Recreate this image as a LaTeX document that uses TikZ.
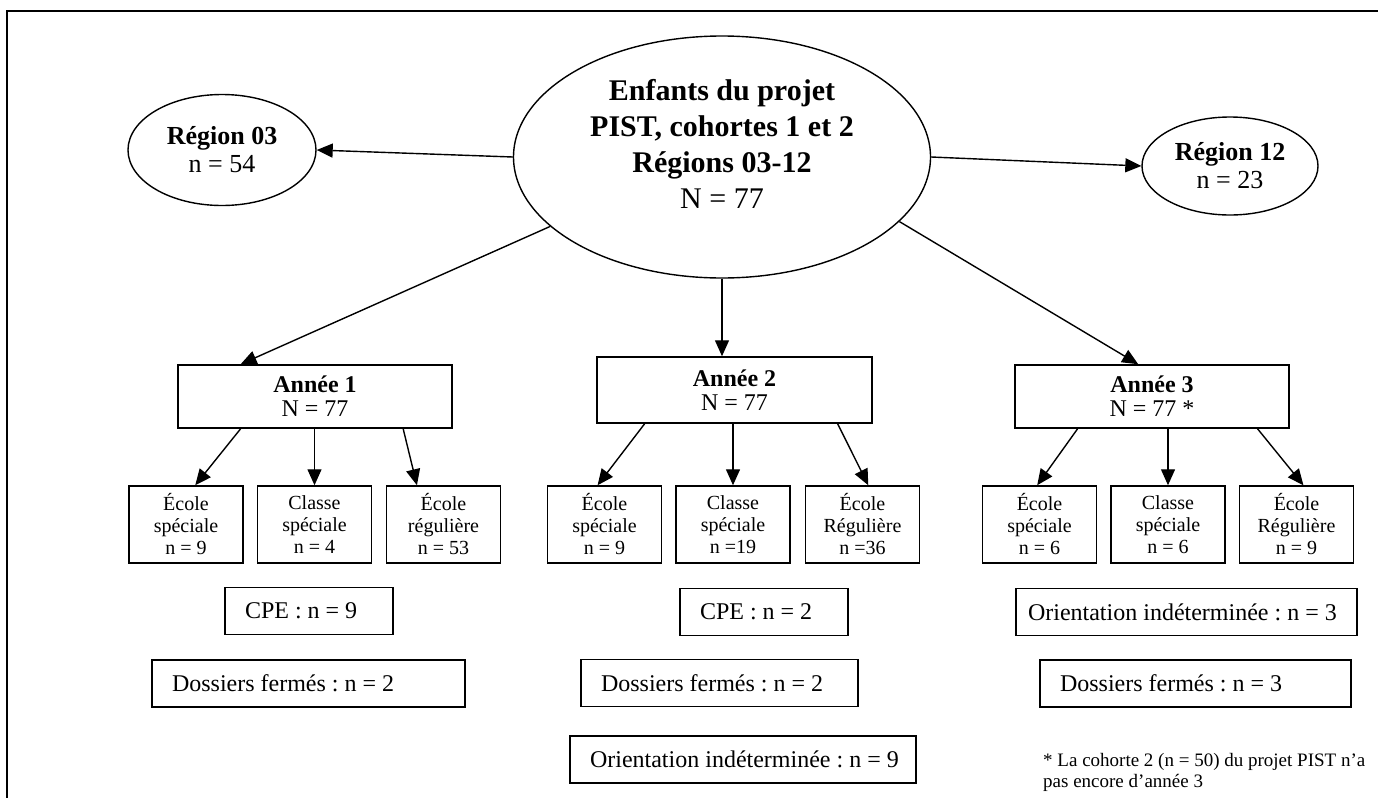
\documentclass[tikz,border=0pt]{standalone}
\usepackage{fontspec}
\setmainfont{Liberation Serif}
\usetikzlibrary{shapes.geometric, arrows.meta, calc}
\newcommand{\padtext}[2]{\makebox[#1][l]{#2}}
\frenchspacing

\begin{document}
\begin{tikzpicture}[x=1pt, y=-1pt,
    oval/.style={draw, ellipse, line width=1.4pt, inner sep=0pt, align=center},
    yearbox/.style={draw, line width=1.5pt, minimum width=274pt, minimum height=63pt, inner sep=0pt, align=center, font=\fontsize{24}{24}\selectfont},
    schoolbox/.style={draw, line width=1.5pt, minimum width=114pt, minimum height=77pt, inner sep=0pt, align=center, font=\fontsize{20}{22}\selectfont},
    notebox/.style={draw, line width=1.5pt, minimum height=47pt, inner xsep=20pt, inner ysep=0pt, font=\fontsize{24}{24}\selectfont},
    arr/.style={line width=1.4pt, -{Triangle[length=16pt, width=14pt]}}]
    \useasboundingbox (0,0) rectangle (1378,798);
    \draw[line width=2pt] (1378,11) -- (7,11) -- (7,798);

    \node[oval, minimum width=417pt, minimum height=242pt, font=\fontsize{30}{36}\selectfont] (root) at (722,157)
        {\textbf{Enfants du projet}\\\textbf{PIST, cohortes 1 et 2}\\\textbf{Régions 03-12}\\N = 77\\[-10pt]};
    \node[oval, minimum width=188pt, minimum height=111pt, font=\fontsize{26}{28}\selectfont] (r03) at (222,150) {\textbf{Région 03}\\n = 54};
    \node[oval, minimum width=176pt, minimum height=98pt, font=\fontsize{26}{28}\selectfont] (r12) at (1230,166) {\textbf{Région 12}\\n = 23};

    \node[yearbox] (y1) at (315,396.5) {\textbf{Année 1}\\N = 77};
    \node[yearbox, minimum width=275pt, minimum height=66pt] (y2) at (734.5,390) {\textbf{Année 2}\\N = 77};
    \node[yearbox] (y3) at (1152,396.5) {\textbf{Année 3}\\N = 77 *};

    \node[schoolbox] (s11) at (186,524.5) {École\\spéciale\\n = 9};
    \node[schoolbox] (s12) at (314.5,524.5) {Classe\\spéciale\\n = 4};
    \node[schoolbox] (s13) at (443.5,524.5) {École\\régulière\\n = 53};
    \node[schoolbox] (s21) at (604.5,524.5) {École\\spéciale\\n = 9};
    \node[schoolbox] (s22) at (733,524.5) {Classe\\spéciale\\n =19};
    \node[schoolbox] (s23) at (862.5,524.5) {École\\Régulière\\n =36};
    \node[schoolbox] (s31) at (1039.5,524.5) {École\\spéciale\\n = 6};
    \node[schoolbox] (s32) at (1168,524.5) {Classe\\spéciale\\n = 6};
    \node[schoolbox] (s33) at (1296.5,524.5) {École\\Régulière\\n = 9};

    \node[notebox] (cpe1) at (309,611) {\padtext{128pt}{CPE : n = 9}};
    \node[notebox] (dos1) at (308.5,683.5) {\padtext{273pt}{Dossiers fermés : n = 2}};
    \node[notebox] (cpe2) at (764,612) {\padtext{128pt}{CPE : n = 2}};
    \node[notebox] (dos2) at (719.5,683) {\padtext{237pt}{Dossiers fermés : n = 2}};
    \node[notebox] (ind2) at (743,759.5) {\padtext{306pt}{Orientation indéterminée : n = 9}};
    \node[notebox, inner xsep=12pt] (ind3) at (1186.5,612) {\padtext{317pt}{Orientation indéterminée : n = 3}};
    \node[notebox] (dos3) at (1195.5,683.5) {\padtext{271pt}{Dossiers fermés : n = 3}};

    \node[anchor=west, align=left, inner sep=0pt, font=\fontsize{19}{21}\selectfont] (foot) at (1043,772)
        {* La cohorte 2 (n = 50) du projet PIST n’a\\pas encore d’année 3};

    \draw[arr] (root.west) -- (r03.east);
    \draw[arr] (root.east) -- (r12.west);
    \draw[arr] (root.202) -- ($(y1.north west)!.23!(y1.north east)$);
    \draw[arr] (root.south) -- (root.south |- y2.north);
    \draw[arr] (root.-20) -- ($(y3.north west)!.45!(y3.north east)$);

    \draw[arr] ($(y1.south west)!.23!(y1.south east)$) -- ($(s11.north west)!.58!(s11.north east)$);
    \draw[arr] (s12.north |- y1.south) -- (s12.north);
    \draw[arr] ($(y1.south west)!.82!(y1.south east)$) -- ($(s13.north west)!.27!(s13.north east)$);
    \draw[arr] ($(y2.south west)!.175!(y2.south east)$) -- ($(s21.north west)!.44!(s21.north east)$);
    \draw[arr] (s22.north |- y2.south) -- (s22.north);
    \draw[arr] ($(y2.south west)!.873!(y2.south east)$) -- ($(s23.north west)!.55!(s23.north east)$);
    \draw[arr] ($(y3.south west)!.23!(y3.south east)$) -- ($(s31.north west)!.48!(s31.north east)$);
    \draw[arr] (s32.north |- y3.south) -- (s32.north);
    \draw[arr] ($(y3.south west)!.883!(y3.south east)$) -- ($(s33.north west)!.56!(s33.north east)$);
\end{tikzpicture}
\end{document}
